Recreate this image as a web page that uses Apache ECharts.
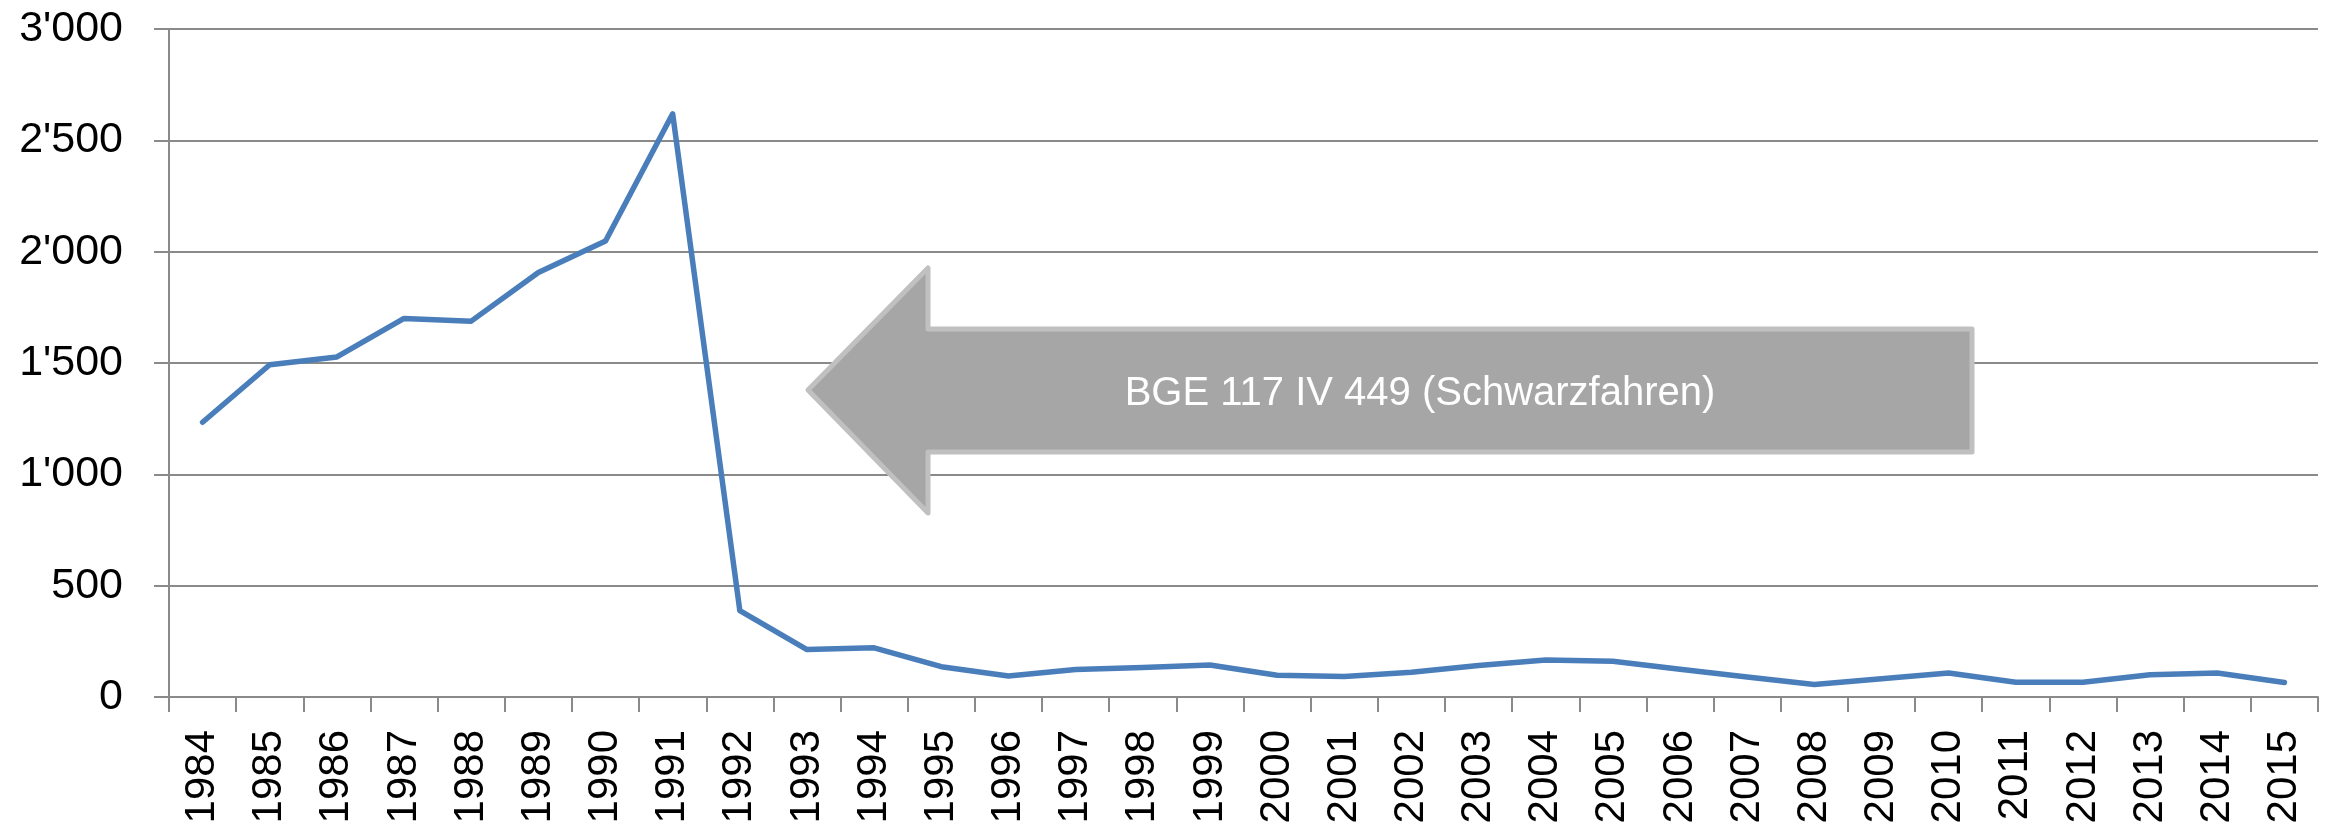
<!DOCTYPE html>
<html>

<head>
  <meta charset="utf-8">
  <title>BGE 117 IV 449</title>
  <script src="https://cdn.jsdelivr.net/npm/echarts/dist/echarts.min.js"></script>
  <style>
    body {
      margin: 0;
      background: #fff;
    }

    #chart {
      width: 2329px;
      height: 827px;
    }
  </style>
</head>

<body>
  <div id="chart"></div>
  <script>
    // Jahre (x-Achse)
    const years = ['1984', '1985', '1986', '1987', '1988', '1989', '1990', '1991', '1992', '1993',
      '1994', '1995', '1996', '1997', '1998', '1999', '2000', '2001', '2002', '2003', '2004',
      '2005', '2006', '2007', '2008', '2009', '2010', '2011', '2012', '2013', '2014', '2015'];

    // Werte pro Jahr
    const values = [1234, 1492, 1527, 1700, 1688, 1906, 2048, 2619, 388, 213,
      221, 136, 94, 124, 133, 144, 98, 92, 111, 141, 166,
      161, 125, 90, 56, 82, 108, 66, 66, 100, 108, 65];

    // y-Achse
    const yMin = 0;
    const yMax = 3000;
    const yStep = 500;

    const arrowText = 'BGE 117 IV 449 (Schwarzfahren)';

    const gray = '#8a8a8a';

    // Tausendertrennzeichen wie im Original: 3'000
    function fmt(v) {
      if (v < 1000) return String(v);
      return Math.floor(v / 1000) + "'" + String(v % 1000).padStart(3, '0');
    }

    const chart = echarts.init(document.getElementById('chart'));

    const option = {
      animation: false,
      grid: {
        left: 169,
        right: 11,
        top: 29,
        bottom: 130
      },
      xAxis: {
        type: 'category',
        data: years,
        boundaryGap: true,
        axisLine: { lineStyle: { color: gray, width: 2 } },
        axisTick: { show: true, interval: 0, length: 15, lineStyle: { color: gray, width: 2 } },
        axisLabel: {
          interval: 0,
          rotate: 90,
          margin: 33,
          fontFamily: 'Liberation Sans',
          fontSize: 42,
          color: '#000'
        },
        splitLine: { show: false }
      },
      yAxis: {
        type: 'value',
        min: yMin,
        max: yMax,
        interval: yStep,
        axisLine: { show: true, lineStyle: { color: gray, width: 2 } },
        axisTick: { show: true, length: 15, lineStyle: { color: gray, width: 2 } },
        axisLabel: {
          margin: 46,
          formatter: fmt,
          fontFamily: 'Liberation Sans',
          fontSize: 43,
          color: '#000'
        },
        splitLine: { lineStyle: { color: gray, width: 2 } }
      },
      series: [{
        type: 'line',
        data: values,
        symbol: 'none',
        lineStyle: { color: '#4a7ebb', width: 5.5, cap: 'round', join: 'round' }
      }],
      // Pfeil mit Verweis auf das Urteil
      graphic: [{
        type: 'polygon',
        shape: {
          points: [[808, 390], [928, 268], [928, 329], [1972, 329], [1972, 452], [928, 452], [928, 513]]
        },
        style: {
          fill: '#a6a6a6',
          stroke: '#c0c0c0',
          lineWidth: 5,
          lineJoin: 'round'
        },
        z: 100
      }, {
        type: 'text',
        x: 1420,
        y: 394,
        style: {
          text: arrowText,
          fill: '#fff',
          fontFamily: 'Liberation Sans',
          fontSize: 40,
          align: 'center',
          verticalAlign: 'middle'
        },
        z: 101
      }]
    };

    chart.setOption(option);
  </script>
</body>

</html>
